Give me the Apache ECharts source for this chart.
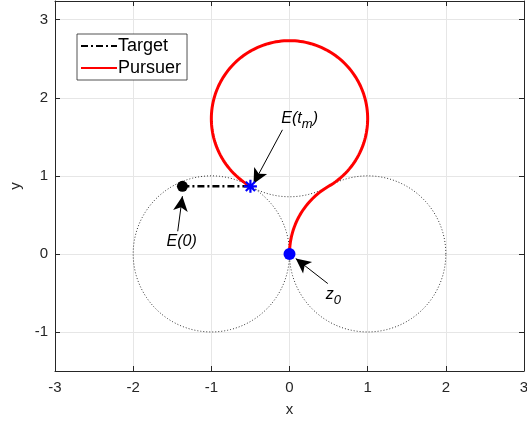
<!DOCTYPE html>
<html><head><meta charset="utf-8">
<script src="https://cdn.jsdelivr.net/npm/echarts@6/dist/echarts.min.js"></script>
<style>html,body{margin:0;padding:0;background:#fff}#chart{width:527px;height:421px}</style>
</head><body><div id="chart"></div>
<script>
// axis ticks and ranges
const xTicks = [-3, -2, -1, 0, 1, 2, 3];
const yTicks = [-1, 0, 1, 2, 3];
const xRange = [-3, 3];
const yRange = [-1.5, 3.24];

// dotted guide circles: [cx, cy, r]
const guideCircles = [[-1, 0, 1], [1, 0, 1], [0, 1.732, 1]];

// pursuer path as circular arcs: [cx, cy, r, startDeg, endDeg]
const pursuerArcs = [[1, 0, 1, 180, 120], [0, 1.732, 1, -60, 240]];

// target segment and marked points
const targetStart = [-1.37, 0.866];
const targetEnd = [-0.5, 0.866];
const pursuerStart = [0, 0];

// annotation texts with their arrows (tail -> head), in data units
const notes = [
  { rich: '{i|E(t}{s|m}{i|)}', at: [0.13, 1.74], tail: [-0.09, 1.59], head: [-0.46, 0.90] },
  { rich: '{i|E(0)}', at: [-1.38, 0.16], tail: [-1.43, 0.29], head: [-1.37, 0.74] },
  { rich: '{i|z}{s|0}', at: [0.56, -0.52], tail: [0.49, -0.38], head: [0.08, -0.06] }
];

function arc(cx, cy, r, a0, a1) {
  const pts = [];
  const n = Math.max(2, Math.ceil(Math.abs(a1 - a0)));
  for (let k = 0; k <= n; k++) {
    const a = (a0 + (a1 - a0) * k / n) * Math.PI / 180;
    pts.push([cx + r * Math.cos(a), cy + r * Math.sin(a)]);
  }
  return pts;
}

const FONT = "'Liberation Sans', Arial, Helvetica, sans-serif";
const AX = '#262626';
const chart = echarts.init(document.getElementById('chart'), null, { renderer: 'canvas' });

const circleSeries = guideCircles.map(c => ({
  type: 'line', data: arc(c[0], c[1], c[2], 0, 360), showSymbol: false, symbol: 'none',
  lineStyle: { color: '#333', width: 1, type: [1, 2] }, silent: true, z: 2
}));

let pursuerPts = [];
pursuerArcs.forEach((a, i) => {
  const p = arc(a[0], a[1], a[2], a[3], a[4]);
  pursuerPts = pursuerPts.concat(i ? p.slice(1) : p);
});

const starPath = 'path://M5,0L5,10M0,5L10,5M1.46,1.46L8.54,8.54M8.54,1.46L1.46,8.54';

const baseAxisX = { type: 'value', min: xRange[0], max: xRange[1], interval: 1 };
const baseAxisY = { type: 'value', min: yRange[0], max: yRange[1] };

chart.setOption({
  animation: false,
  textStyle: { fontFamily: FONT },
  grid: { left: 55, right: 3, top: 1, bottom: 50, containLabel: false, outerBoundsMode: 'none' },
  legend: {
    orient: 'vertical', left: 77, top: 34, padding: [3, 6, 3, 3], itemGap: 4,
    itemWidth: 36, itemHeight: 14, borderColor: AX, borderWidth: 0.8, backgroundColor: '#fff',
    itemStyle: { color: 'rgba(0,0,0,0)', borderWidth: 0, opacity: 0 },
    textStyle: { fontSize: 18, color: '#000', fontFamily: FONT, padding: [0, 0, 0, -4] },
    data: ['Target', 'Pursuer']
  },
  xAxis: [
    Object.assign({}, baseAxisX, {
      position: 'bottom', name: 'x', nameLocation: 'middle', nameGap: 31,
      nameTextStyle: { fontSize: 15, color: AX },
      axisLine: { show: true, onZero: false, lineStyle: { color: AX, width: 1 } },
      axisTick: { show: true, inside: true, length: 5, lineStyle: { color: AX } },
      axisLabel: { fontSize: 15, color: AX, margin: 9 },
      splitLine: { show: true, lineStyle: { color: '#e6e6e6', width: 1 } }
    }),
    Object.assign({}, baseAxisX, {
      position: 'top',
      axisLine: { show: true, onZero: false, lineStyle: { color: AX, width: 1 } },
      axisTick: { show: true, inside: true, length: 5, lineStyle: { color: AX } },
      axisLabel: { show: false }, splitLine: { show: false }
    })
  ],
  yAxis: [
    Object.assign({}, baseAxisY, {
      position: 'left', name: 'y', nameLocation: 'middle', nameGap: 30, nameRotate: 90,
      nameTextStyle: { fontSize: 15, color: AX },
      axisLine: { show: true, onZero: false, lineStyle: { color: AX, width: 1 } },
      axisTick: { show: true, inside: true, length: 5, lineStyle: { color: AX }, customValues: yTicks },
      axisLabel: { fontSize: 15, color: AX, margin: 7, customValues: yTicks },
      splitLine: { show: true, lineStyle: { color: '#e6e6e6', width: 1 } }
    }),
    Object.assign({}, baseAxisY, {
      position: 'right',
      axisLine: { show: true, onZero: false, lineStyle: { color: AX, width: 1 } },
      axisTick: { show: true, inside: true, length: 5, lineStyle: { color: AX }, customValues: yTicks },
      axisLabel: { show: false, customValues: yTicks }, splitLine: { show: false }
    })
  ],
  series: circleSeries.concat([
    {
      name: 'Pursuer', type: 'line', data: pursuerPts, showSymbol: false, symbol: 'none',
      lineStyle: { color: '#ff0000', width: 3 }, itemStyle: { color: '#ff0000' }, z: 4
    },
    {
      name: 'Target', type: 'line', data: [targetStart, targetEnd], showSymbol: false, symbol: 'none',
      lineStyle: { color: '#000', width: 2.5, type: [7, 3, 2, 3] }, itemStyle: { color: '#000' }, z: 5
    },
    {
      type: 'scatter', data: [targetStart], symbol: 'circle', symbolSize: 11,
      itemStyle: { color: '#000', opacity: 1 }, z: 6, silent: true
    },
    {
      type: 'scatter', data: [pursuerStart], symbol: 'circle', symbolSize: 12,
      itemStyle: { color: '#0000ff', opacity: 1 }, z: 6, silent: true
    },
    {
      type: 'scatter', data: [targetEnd], symbol: starPath, symbolSize: 13,
      itemStyle: { color: 'rgba(0,0,0,0)', borderColor: '#0000ff', borderWidth: 2.2, opacity: 1 }, z: 7, silent: true
    },
    {
      type: 'scatter', silent: true, z: 8,
      data: notes.map(n => ({ value: n.at, label: { formatter: n.rich } })),
      symbol: 'circle', symbolSize: 1, itemStyle: { color: 'rgba(0,0,0,0)', opacity: 1 },
      label: {
        show: true, position: 'inside', opacity: 1,
        rich: {
          i: { fontSize: 16, fontStyle: 'italic', color: '#000', fontFamily: FONT },
          s: { fontSize: 13, fontStyle: 'italic', color: '#000', fontFamily: FONT, padding: [12, 0, 0, 0] }
        }
      },
      markLine: {
        silent: true, symbol: ['none', 'arrow'], symbolSize: [11, 15], precision: 4,
        lineStyle: { color: '#000', width: 1, type: 'solid', opacity: 1 }, label: { show: false },
        data: notes.map(n => [{ coord: n.tail }, { coord: n.head }])
      }
    }
  ])
});
</script></body></html>
